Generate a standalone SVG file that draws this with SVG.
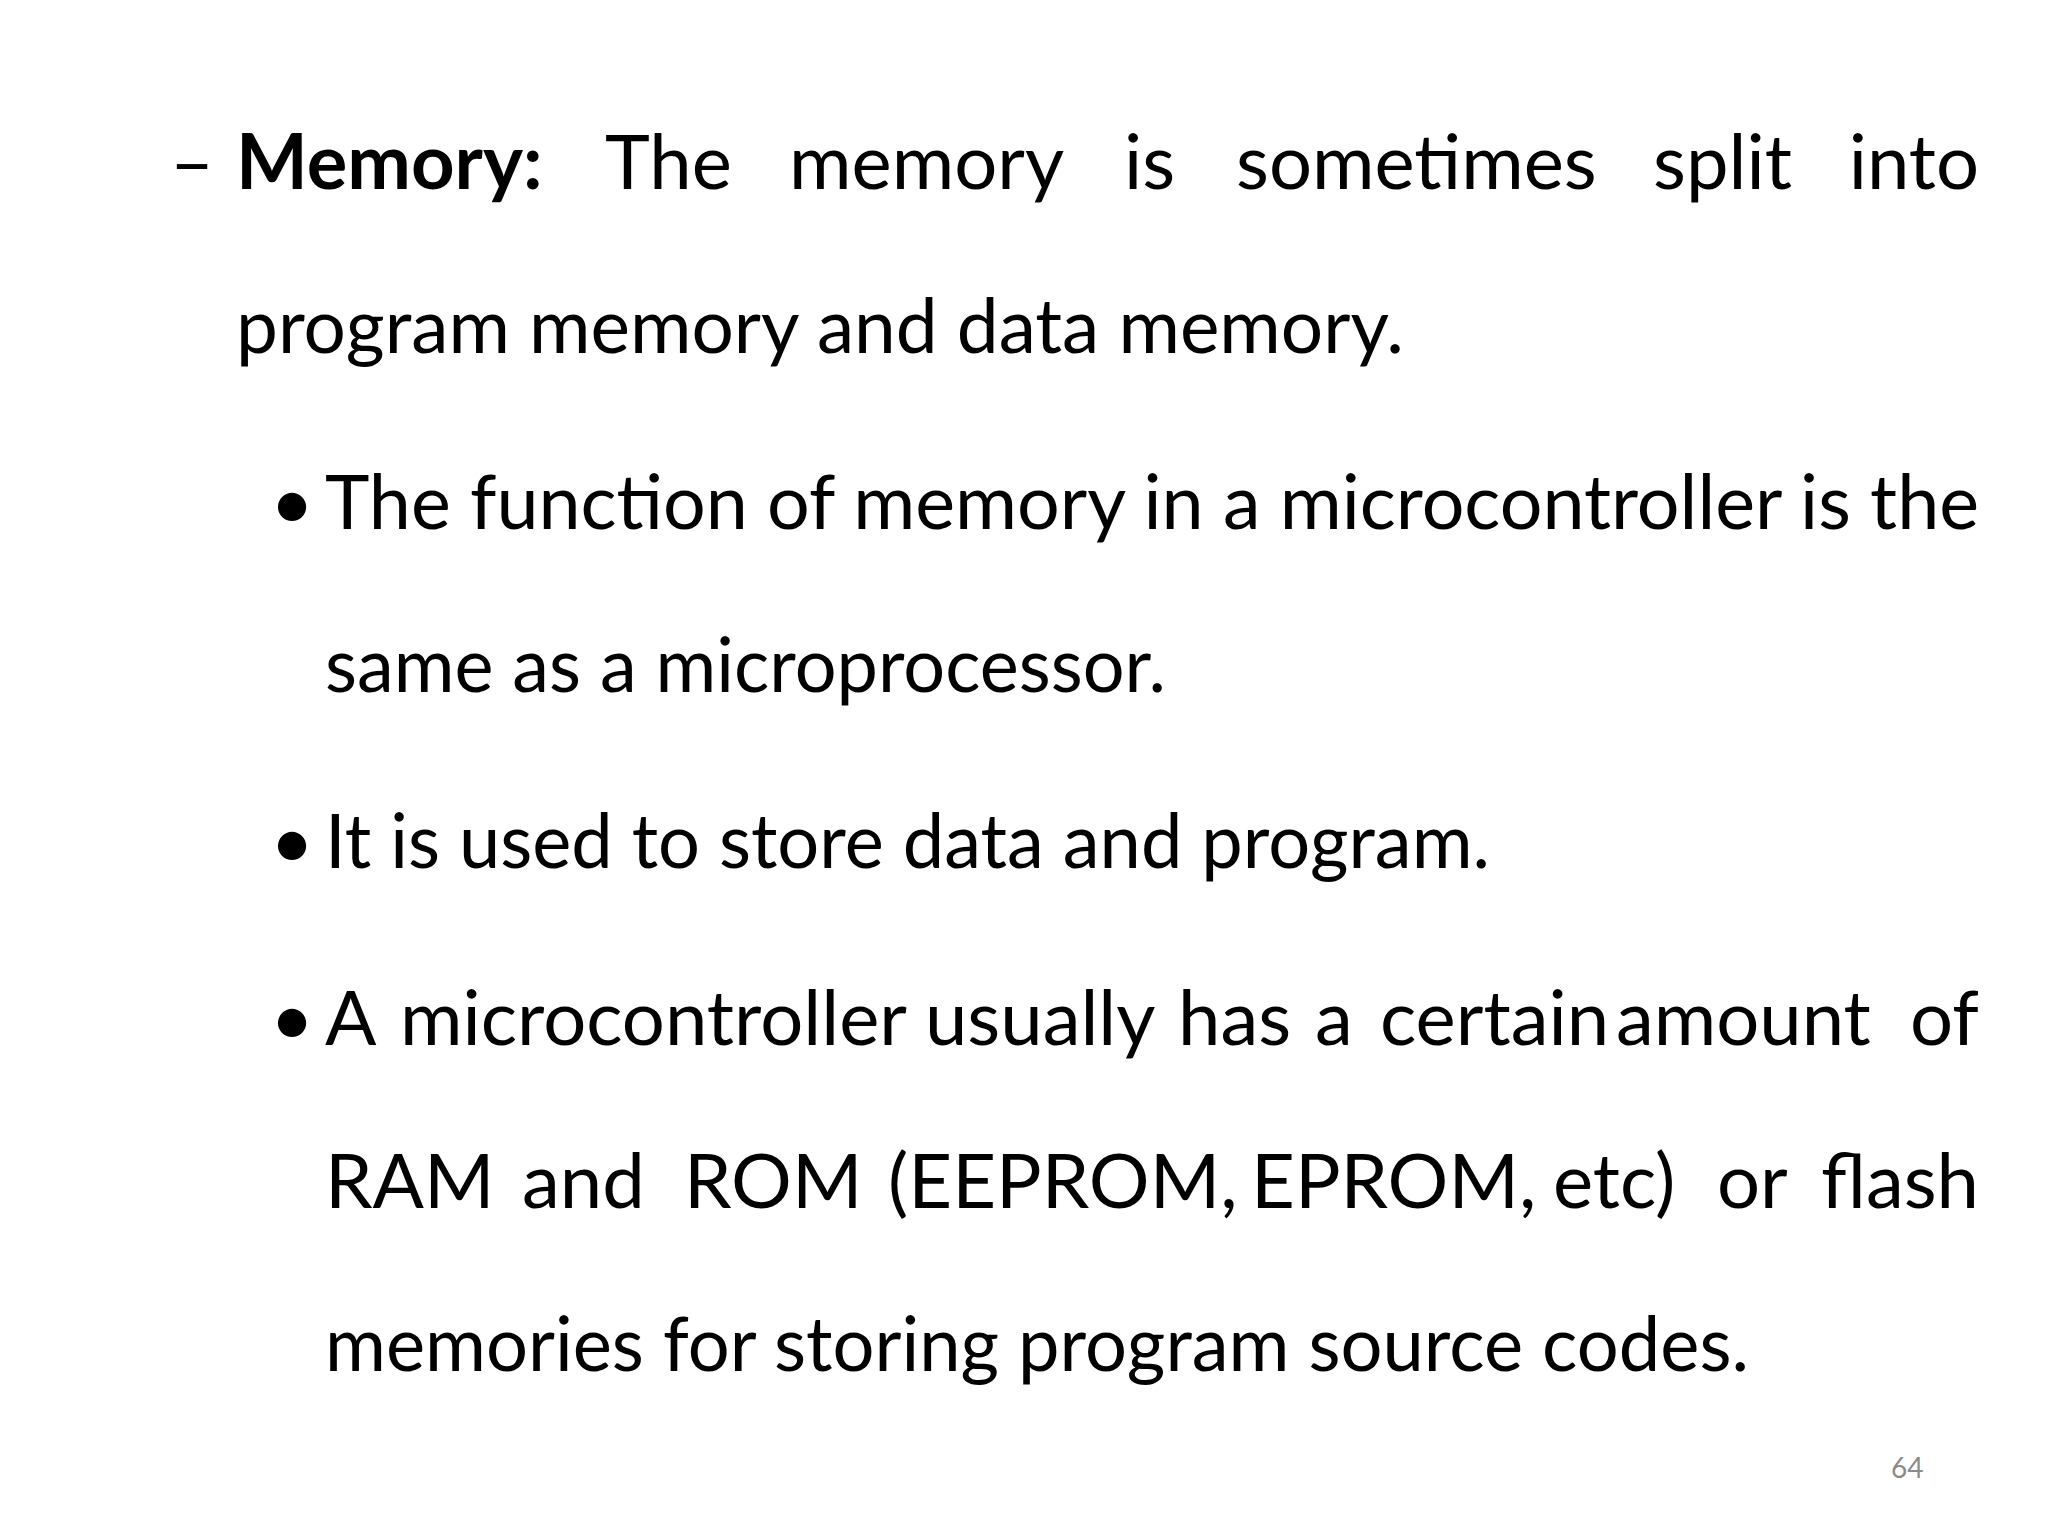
<svg xmlns="http://www.w3.org/2000/svg" width="2048" height="1536" viewBox="0 0 2048 1536">
<style>
text{font-family:Lato,"Noto Sans","Liberation Sans",sans-serif;font-size:76px;fill:#000}
.b{font-weight:bold}
.pn{font-size:28px;fill:#8a8a8a}
</style>
<rect width="2048" height="1536" fill="#fff"/>
<g id="line1">
<text x="170" y="189">–</text>
<text x="236" y="189" class="b">Memory:</text>
<text x="605" y="189">The</text>
<text x="789" y="189">memory</text>
<text x="1124" y="189">is</text>
<text x="1236" y="189">sometimes</text>
<text x="1653" y="189">split</text>
<text x="1979" y="189" text-anchor="end">into</text>
</g>
<g id="line2"><text x="236" y="353" textLength="1168" lengthAdjust="spacingAndGlyphs">program memory and data memory.</text></g>
<g id="bullet1">
<text x="270" y="529" font-size="60">•</text>
<text x="325" y="529" textLength="1654" lengthAdjust="spacingAndGlyphs">The function of memory in a microcontroller is the</text>
<text x="325" y="692" textLength="841" lengthAdjust="spacingAndGlyphs">same as a microprocessor.</text>
</g>
<g id="bullet2">
<text x="270" y="868" font-size="60">•</text>
<text x="325" y="868" textLength="1165" lengthAdjust="spacingAndGlyphs">It is used to store data and program.</text>
</g>
<g id="bullet3">
<text x="270" y="1045" font-size="60">•</text>
<text x="325" y="1045">A</text>
<text x="400" y="1045">microcontroller</text>
<text x="925" y="1045">usually</text>
<text x="1178" y="1045">has</text>
<text x="1315" y="1045">a</text>
<text x="1380" y="1045">certain</text>
<text x="1616" y="1045">amount</text>
<text x="1979" y="1045" text-anchor="end">of</text>
<text x="325" y="1208">RAM</text>
<text x="522" y="1208">and</text>
<text x="684" y="1208">ROM</text>
<text x="888" y="1208">(EEPROM,</text>
<text x="1251" y="1208">EPROM,</text>
<text x="1553" y="1208">etc)</text>
<text x="1717" y="1208">or</text>
<text x="1979" y="1208" text-anchor="end">flash</text>
<text x="325" y="1371" textLength="1424" lengthAdjust="spacingAndGlyphs">memories for storing program source codes.</text>
</g>
<text class="pn" x="1891" y="1478">64</text>
</svg>
